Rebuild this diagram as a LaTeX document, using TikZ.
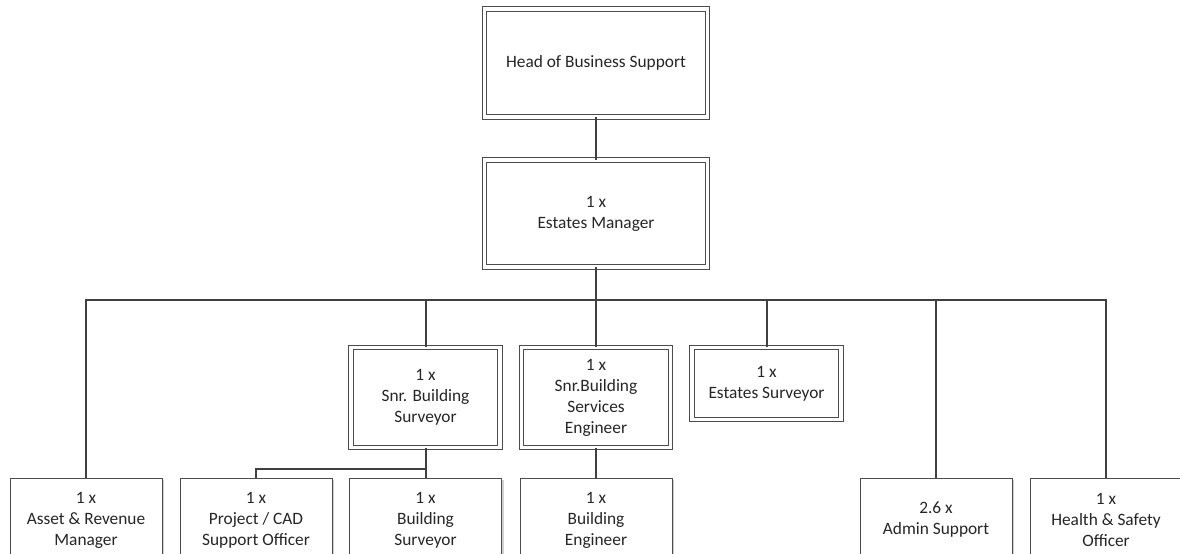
\documentclass[tikz,border=0pt]{standalone}
\usepackage{fontspec}
\setmainfont{Carlito}
\usetikzlibrary{shadows}
\begin{document}
\begin{tikzpicture}[x=0.75pt,y=-0.75pt,
  every node/.style={font=\fontsize{13pt}{15.75pt}\selectfont, text=black!85, align=center, inner sep=0pt},
  boxshadow/.style={drop shadow={shadow xshift=1.6pt,shadow yshift=-1.6pt,fill=black!18,opacity=1}},
  dblbox/.style={draw=black!70, line width=0.6pt, double=white, double distance=2.6pt, fill=white, boxshadow},
  sglbox/.style={draw=black!70, line width=0.6pt, fill=white, boxshadow, minimum width=114pt, minimum height=63pt},
  link/.style={draw=black!75, line width=1.5pt}
]
\useasboundingbox (0,0) rectangle (1180,553);
\clip (0,0) rectangle (1180,553);
\fill[white] (0,0) rectangle (1180,553);

% double-bordered boxes
\node[dblbox, minimum width=167.25pt, minimum height=81pt] (head) at (596,63) {Head of Business Support};
\node[dblbox, minimum width=167.25pt, minimum height=80.25pt] (em) at (596,213.5) {1 x\\Estates Manager};
\node[dblbox, minimum width=111.75pt, minimum height=75pt] (sbs) at (425.5,397.5) {1 x\\Snr. Building\\Surveyor};
\node[dblbox, minimum width=111.75pt, minimum height=75pt] (sbse) at (596,397.5) {1 x\\Snr.Building\\Services\\Engineer};
\node[dblbox, minimum width=111.75pt, minimum height=54pt] (es) at (766.5,383.5) {1 x\\Estates Surveyor};

% bottom row
\node[sglbox] (asset) at (86,520) {1 x\\Asset \& Revenue\\Manager};
\node[sglbox] (proj) at (256,520) {1 x\\Project / CAD\\Support Officer};
\node[sglbox] (bs) at (425.5,520) {1 x\\Building\\Surveyor};
\node[sglbox] (be) at (596,520) {1 x\\Building\\Engineer};
\node[sglbox] (admin) at (936,520) {2.6 x\\Admin Support};
\node[sglbox] (hs) at (1106,520) {1 x\\Health \& Safety\\Officer};

% connectors
\path (em.south) ++(0,33) coordinate (bus);
\path (sbs.south) ++(0,21) coordinate (j);
\draw[link] (head.south) -- (em.north);
\draw[link] (em.south) -- (bus);
\draw[link] (asset.north) |- (bus) -| (hs.north);
\draw[link] (sbs.north) -- (sbs.north |- bus);
\draw[link] (sbse.north) -- (sbse.north |- bus);
\draw[link] (es.north) -- (es.north |- bus);
\draw[link] (admin.north) -- (admin.north |- bus);
\draw[link] (sbs.south) -- (bs.north);
\draw[link] (j) -| (proj.north);
\draw[link] (sbse.south) -- (be.north);
\end{tikzpicture}
\end{document}
